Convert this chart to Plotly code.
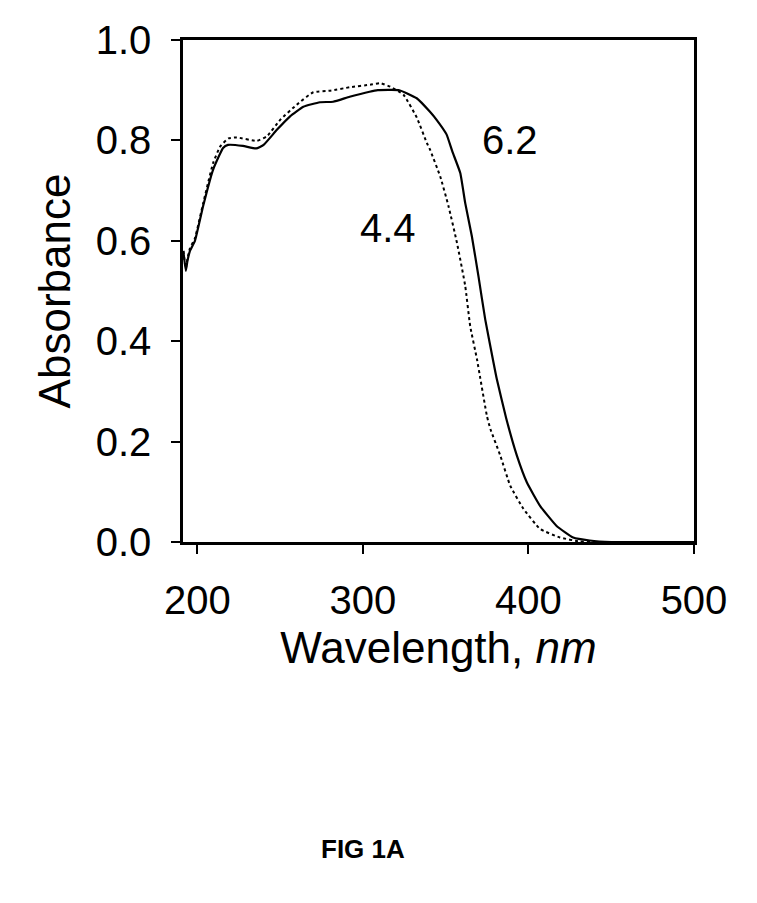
import plotly.graph_objects as go

# pH 6.2 spectrum (solid)
wl_62 = [191.5, 193, 194, 195.5, 198.5, 203.5, 209.5, 215.5, 218.5, 227.5, 235.5, 240,
         248, 256, 264, 274, 282, 292, 304, 309, 322, 332.5, 340.5, 344.5, 350.5, 354,
         358.8, 361.8, 365.8, 369.8, 373.9, 378.9, 380.9, 386.5, 393, 399, 407, 417,
         427, 437, 450, 500]
abs_62 = [0.58, 0.54, 0.56, 0.58, 0.60, 0.67, 0.742, 0.785, 0.791, 0.789, 0.784, 0.791,
          0.821, 0.848, 0.867, 0.876, 0.877, 0.887, 0.897, 0.90, 0.90, 0.884, 0.857, 0.841,
          0.812, 0.778, 0.735, 0.675, 0.609, 0.529, 0.443, 0.357, 0.324, 0.247, 0.172,
          0.119, 0.072, 0.032, 0.009, 0.003, 0.0, 0.0]

# pH 4.4 spectrum (dotted)
wl_44 = [191.5, 193, 194, 195.5, 198.5, 203.5, 209.5, 213.8, 218.8, 223.8, 235.9, 242,
         250, 260, 270, 280.2, 292.3, 304.4, 310.4, 316.5, 324.5, 332.6, 338.6, 340.6,
         346.7, 351.7, 356.8, 361.8, 364.8, 368.9, 370.9, 374.9, 377, 383, 389, 397,
         407, 419, 431, 440, 500]
abs_44 = [0.58, 0.545, 0.565, 0.585, 0.605, 0.675, 0.755, 0.788, 0.804, 0.806, 0.799,
          0.808, 0.841, 0.871, 0.896, 0.899, 0.906, 0.911, 0.914, 0.907, 0.891, 0.845,
          0.795, 0.781, 0.728, 0.669, 0.596, 0.510, 0.430, 0.364, 0.326, 0.251, 0.225,
          0.172, 0.112, 0.066, 0.026, 0.009, 0.001, 0.0, 0.0]

x_ticks = [200, 300, 400, 500]
y_ticks = [0.0, 0.2, 0.4, 0.6, 0.8, 1.0]

labels = [("6.2", 388.8, 0.80), ("4.4", 315.2, 0.625)]

FONT = "Liberation Sans, Arial, sans-serif"

fig = go.Figure()
fig.add_trace(go.Scatter(x=wl_62, y=abs_62, mode="lines",
                         line=dict(color="black", width=2.2, shape="spline", smoothing=0.4),
                         showlegend=False))
fig.add_trace(go.Scatter(x=wl_44, y=abs_44, mode="lines",
                         line=dict(color="black", width=2, dash="dot", shape="spline", smoothing=0.4),
                         showlegend=False))

annotations = []
for txt, xv, yv in labels:
    annotations.append(dict(x=xv, y=yv, xref="x", yref="y", text=txt, showarrow=False,
                            font=dict(family=FONT, size=40, color="black"),
                            xanchor="center", yanchor="middle"))
annotations.append(dict(x=0.352, y=-0.612, xref="paper", yref="paper", text="<b>FIG 1A</b>",
                        showarrow=False, font=dict(family=FONT, size=26, color="black"),
                        xanchor="center", yanchor="middle"))

fig.update_layout(
    width=757, height=903,
    margin=dict(l=183, r=63, t=40, b=361),
    paper_bgcolor="white", plot_bgcolor="white",
    font=dict(family=FONT, color="black"),
    annotations=annotations,
    xaxis=dict(range=[191.3, 500], tickvals=x_ticks, ticktext=[str(v) for v in x_ticks],
               showgrid=False, zeroline=False, showline=True, linecolor="black",
               linewidth=2.5, mirror=True, ticks="outside", ticklen=9, tickwidth=2,
               tickcolor="black", tickfont=dict(size=40, family=FONT), ticklabelstandoff=12,
               title=dict(text="Wavelength, <i>nm</i>", font=dict(size=44, family=FONT),
                          standoff=12)),
    yaxis=dict(range=[0, 1.0], tickvals=y_ticks, ticktext=[f"{v:.1f}" for v in y_ticks],
               showgrid=False, zeroline=False, showline=True, linecolor="black",
               linewidth=2.5, mirror=True, ticks="outside", ticklen=9, tickwidth=2,
               tickcolor="black", tickfont=dict(size=40, family=FONT), ticklabelstandoff=12,
               title=dict(text="Absorbance", font=dict(size=44, family=FONT), standoff=12)),
)

fig.write_html("out.html")
